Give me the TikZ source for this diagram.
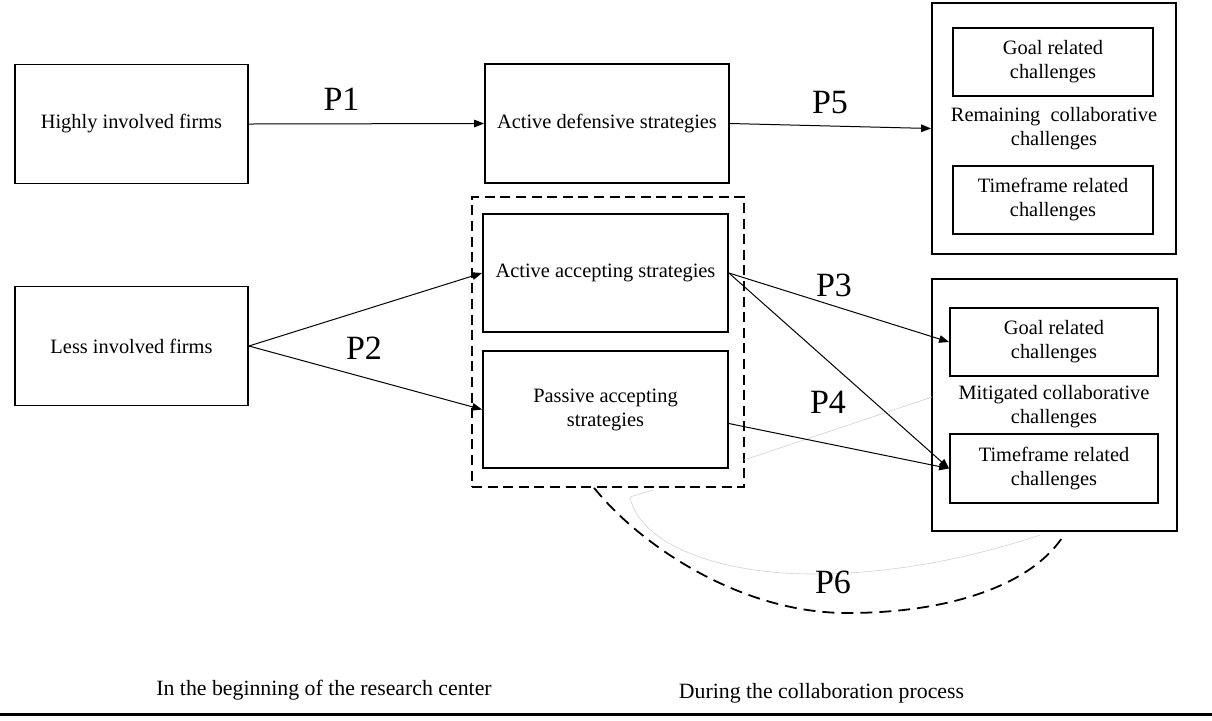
\documentclass[tikz,border=0pt]{standalone}
\usepackage{fontspec}
\setmainfont{Liberation Serif}
\usetikzlibrary{arrows.meta,calc}
\begin{document}
\begin{tikzpicture}[x=0.5pt,y=-0.5pt,
  box/.style={draw, line width=0.9pt, inner sep=2pt, align=center, font=\fontsize{10.2}{12}\selectfont},
  dbox/.style={draw, line width=0.9pt, dash pattern=on 5pt off 2.8pt},
  txt/.style={inner sep=0pt, align=center, font=\fontsize{10.2}{12}\selectfont},
  btxt/.style={inner sep=0pt, anchor=base, font=\fontsize{10.9}{13}\selectfont},
  plab/.style={inner sep=0pt, font=\fontsize{17}{20}\selectfont},
  arr/.style={-{Triangle[length=5pt,width=3.8pt]}, line width=0.5pt},
  p6line/.style={line width=0.9pt, dash pattern=on 6pt off 3.5pt},
  faint/.style={draw=black!18, line width=0.3pt}]
\useasboundingbox (0,0) rectangle (1212,720);

% left column
\node[box, minimum width=116.5pt, minimum height=59.5pt] (hi) at (131.5,124) {Highly involved firms};
\node[box, minimum width=116.5pt, minimum height=59.5pt] (lo) at (131.5,346) {Less involved firms};

% middle column
\node[box, minimum width=122pt, minimum height=59.5pt] (ad) at (607,123.5) {Active defensive strategies};
\node[dbox, minimum width=136pt, minimum height=145pt] (grp) at (608,342) {};
\node[box, minimum width=122.5pt, minimum height=59pt] (aa) at (605.5,273) {Active accepting strategies};
\node[box, minimum width=122.5pt, minimum height=58.5pt] (pa) at (605.5,409.5) {Passive accepting\\strategies};

% right column: remaining
\node[box, minimum width=122pt, minimum height=125.5pt] (rem) at (1054,128.5) {};
\node[box, minimum width=100pt, minimum height=34pt] (g1) at (1053,62) {Goal related\\challenges};
\node[box, minimum width=100pt, minimum height=34pt] (t1) at (1053,200) {Timeframe related\\challenges};
\node[txt] (remlab) at (1054,129) {Remaining~~collaborative\\challenges};

% right column: mitigated
\node[box, minimum width=122.5pt, minimum height=126pt] (mit) at (1054.5,405) {};
\node[box, minimum width=104pt, minimum height=34pt] (g2) at (1054,342) {Goal related\\challenges};
\node[box, minimum width=104pt, minimum height=34.5pt] (t2) at (1054,468.5) {Timeframe related\\challenges};
\node[txt] (mitlab) at (1054,407) {Mitigated collaborative\\challenges};

% faint artefact lines
\coordinate (fa1) at (744,460);
\coordinate (fa2) at (932,397);
\draw[faint] (fa1) -- (fa2);
\coordinate (fb1) at (653,490);
\coordinate (fb2) at (1040,535);
\draw[faint] (fb1) -- (630,497) .. controls (640,545) and (720,574) .. (813,574)
  .. controls (900,574) and (980,555) .. (fb2);

% arrows
\draw[arr] (hi.east) -- (ad.west);
\draw[arr] (ad.east) -- (rem.west);
\draw[arr] (lo.east) -- (aa.west);
\draw[arr] (lo.east) -- (pa.west);
\draw[arr] (aa.east) -- (g2.west);
\draw[arr] (aa.east) -- (t2.west);
\coordinate (paout) at ($(pa.east)+(0,14)$);
\draw[arr] (paout) -- (t2.west);

% P6 curve
\coordinate (p6s) at ($(grp.south west)+(123,0)$);
\coordinate (p6e) at ($(mit.south)+(7.5,6)$);
\draw[p6line] (p6s) .. controls (640,545) and (740,613) .. (847,613)
  .. controls (950,613) and (1030,585) .. (p6e);

% labels
\node[plab] (P1) at (341.5,99) {P1};
\node[plab] (P2) at (364,348) {P2};
\node[plab] (P3) at (834,285) {P3};
\node[plab] (P4) at (828,402) {P4};
\node[plab] (P5) at (830,103) {P5};
\node[plab] (P6) at (833,582) {P6};

% bottom
\node[btxt] (b1) at (324,695) {In the beginning of the research center};
\node[btxt] (b2) at (821.5,698) {During the collaboration process};
\coordinate (bl) at (0,714);
\coordinate (br) at (1212,714);
\draw[line width=1.5pt] (bl) -- (br);
\end{tikzpicture}
\end{document}
